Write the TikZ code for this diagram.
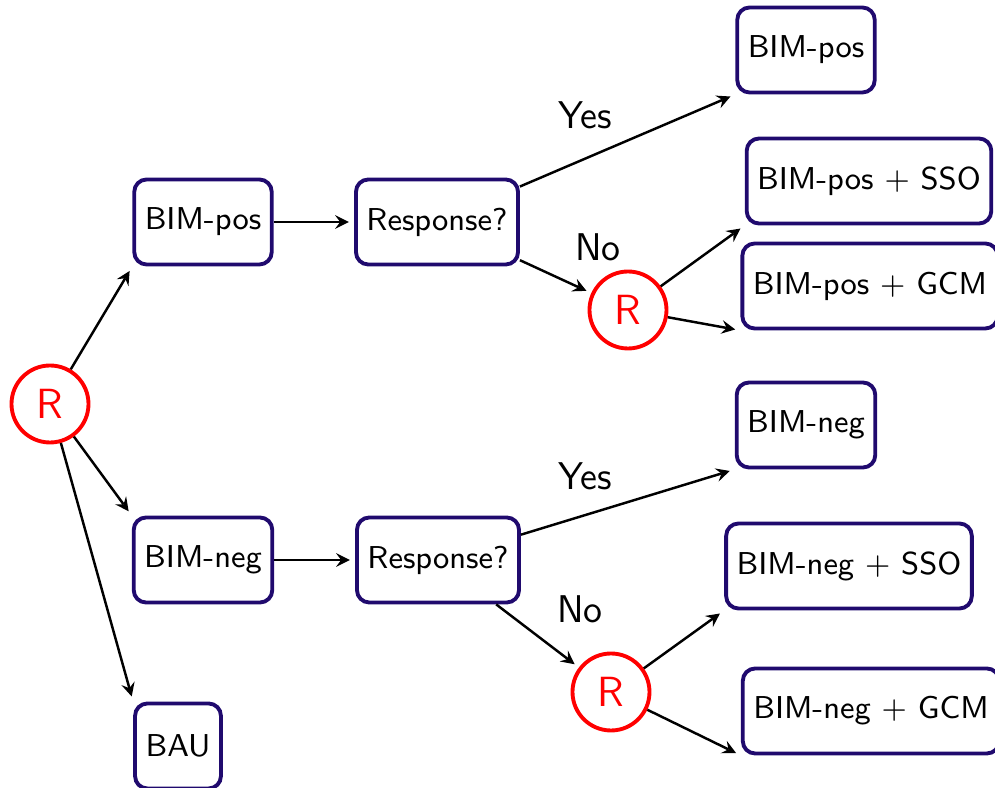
\documentclass[tikz,border=0pt]{standalone}
\usepackage{amssymb, amsmath}
\usepackage{tikz}
\definecolor{boxblue}{RGB}{32,10,110}

\begin{document}
\begin{tikzpicture}[
        box/.style={draw=boxblue, line width=1.1pt, rounded corners=3.5pt, minimum height=.85cm, inner xsep=.105cm, font=\sffamily\fontsize{9}{10}\selectfont},
        rnd/.style={draw=red, circle, line width=1.1pt, minimum size=.77cm, inner sep=0pt, text=red, font=\sffamily\fontsize{12}{14}\selectfont},
        lbl/.style={font=\sffamily\fontsize{11}{13}\selectfont},
        arr/.style={-stealth, line width=.7pt, shorten >=1.5pt}]
        \useasboundingbox(0, 0)rectangle(9.95, 7.88);
        \node[rnd](root)at(.5, 3.84){R};
        \node[box](bimpos)at(2.03, 5.66){BIM-pos};
        \node[box](bimneg)at(2.03, 2.28){BIM-neg};
        \node[box](bau)at(1.78, .42){BAU};
        \node[box](resppos)at(4.37, 5.66){Response?};
        \node[box](respneg)at(4.38, 2.28){Response?};
        \node[rnd](rpos)at(6.28, 4.78){R};
        \node[rnd](rneg)at(6.11, .96){R};
        \node[box](pos)at(8.06, 7.38){BIM-pos};
        \node[box](possso)at(8.69, 6.07){BIM-pos $+$ SSO};
        \node[box](posgcm)at(8.70, 5.02){BIM-pos $+$ GCM};
        \node[box](neg)at(8.06, 3.63){BIM-neg};
        \node[box](negsso)at(8.49, 2.22){BIM-neg $+$ SSO};
        \node[box](neggcm)at(8.71, .77){BIM-neg $+$ GCM};
        \node[lbl](yespos)at(5.85, 6.73){Yes};
        \node[lbl](nopos)at(5.98, 5.41){No};
        \node[lbl](yesneg)at(5.85, 3.12){Yes};
        \node[lbl](noneg)at(5.80, 1.79){No};
        % first stage
        \draw[arr](root)--(bimpos.south west);
        \draw[arr](root)--(bimneg.north west);
        \draw[arr](root)--(bau.north west);
        \draw[arr](bimpos)--(resppos);
        \draw[arr](bimneg)--(respneg);
        % upper branch
        \draw[arr](resppos)--(pos.south west);
        \draw[arr](resppos)--(rpos);
        \draw[arr](rpos)--(possso.south west);
        \draw[arr](rpos)--(posgcm.south west);
        % lower branch
        \draw[arr](respneg)--(neg.south west);
        \draw[arr](respneg)--(rneg);
        \draw[arr](rneg)--(negsso.south west);
        \draw[arr](rneg)--(neggcm.south west);
    \end{tikzpicture}
\end{document}
